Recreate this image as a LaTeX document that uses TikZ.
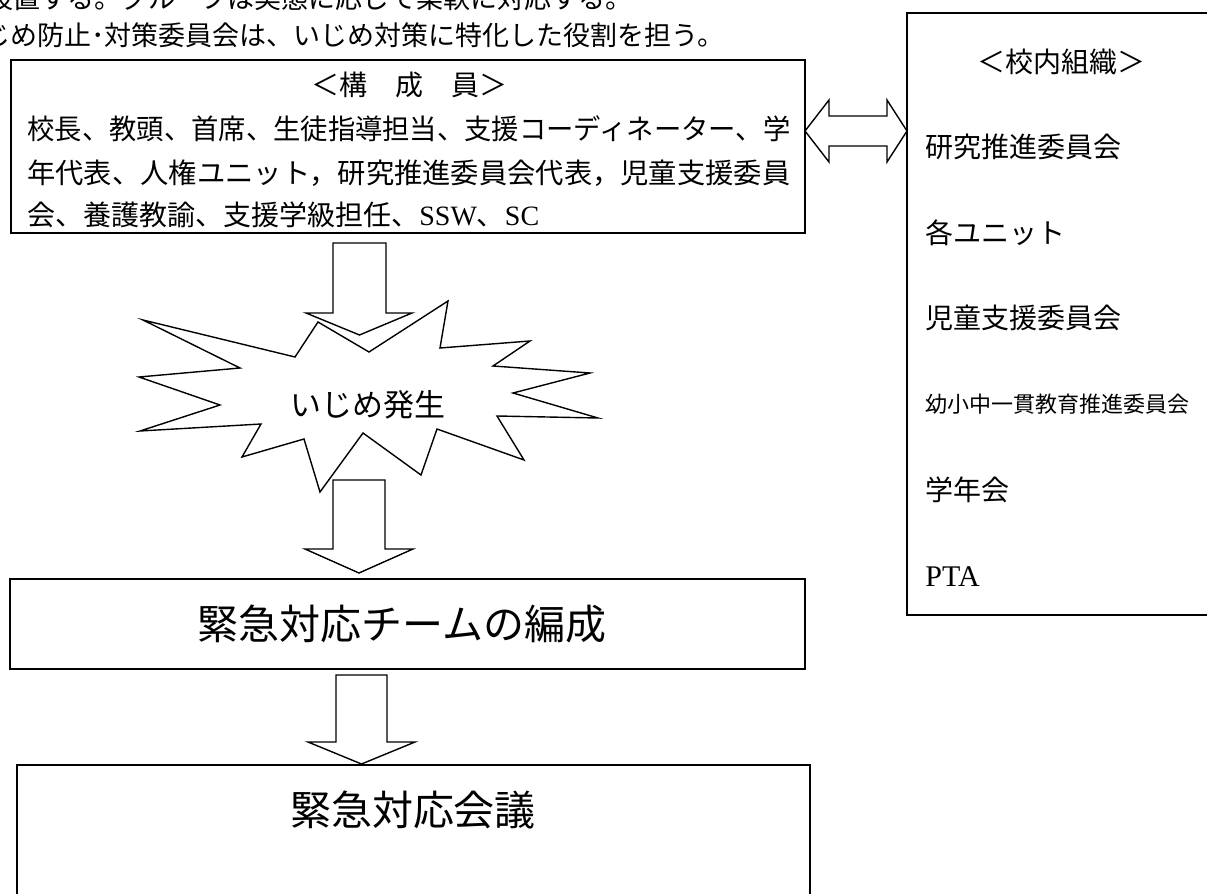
\documentclass[tikz,border=0pt]{standalone}
\usepackage{fontspec}
\setmainfont{Liberation Serif}
\newfontfamily\jp{Noto Sans CJK JP}
\usetikzlibrary{fit}
\begin{document}
\begin{tikzpicture}[x=0.5pt, y=-0.5pt, line join=miter,
	box/.style={draw, line width=1pt, inner sep=0pt},
	blk/.style={draw, line width=0.7pt, fill=white},
	txt/.style={inner sep=0pt, font=\jp\fontsize{14}{17}\selectfont}]
	\useasboundingbox (0,0) rectangle (1207,894);
	\clip (0,0) rectangle (1207,894);
	% lines cut from the page above
	\node[txt, anchor=west, font=\jp\fontsize{13.5}{16}\selectfont] (intro1) at (-14,-2) {設置する。グループは実態に応じて柔軟に対応する。};
	\node[txt, anchor=west, font=\jp\fontsize{13.5}{16}\selectfont] (intro2) at (-17,35) {じめ防止･対策委員会は、いじめ対策に特化した役割を担う。};
	% members
	\node[box, fit={(11,60) (805,233)}] (members) {};
	\node[txt] (memtitle) at (409,85) {＜構　成　員＞};
	\node[txt, anchor=west] (mem1) at (27,129) {\resizebox{381.5pt}{\height}{校長、教頭、首席、生徒指導担当、支援コーディネーター、学}};
	\node[txt, anchor=west] (mem2) at (27,173) {\resizebox{381.5pt}{\height}{年代表、人権ユニット，研究推進委員会代表，児童支援委員}};
	\node[txt, anchor=west] (mem3) at (27,215) {会、養護教諭、支援学級担任、{\rmfamily SSW}、{\rmfamily SC}};
	% school organisations
	\node[box, fit={(907,13) (1220,615)}] (org) {};
	\node[txt] (orgtitle) at (1061,62) {＜校内組織＞};
	\node[txt, anchor=west] (org1) at (925,147) {研究推進委員会};
	\node[txt, anchor=west] (org2) at (925,233) {各ユニット};
	\node[txt, anchor=west] (org3) at (925,318) {児童支援委員会};
	\node[txt, anchor=west, font=\jp\fontsize{11}{13}\selectfont] (org4) at (925,404) {幼小中一貫教育推進委員会};
	\node[txt, anchor=west] (org5) at (925,490) {学年会};
	\node[txt, anchor=west, font=\rmfamily\fontsize{15}{18}\selectfont] (org6) at (925,577) {PTA};
	\draw[blk] (805,131) -- (829,100) -- (829,116) -- (887,116) -- (887,100) -- (907,131)
		-- (887,162) -- (887,146) -- (829,146) -- (829,162) -- cycle;
	% bullying occurs
	\draw[blk] (143,320) -- (295,357) -- (318,322) -- (369,352) -- (448,301) -- (440,348)
		-- (530,341) -- (493,366) -- (590,373) -- (513,393) -- (598,418) -- (497,416)
		-- (524,460) -- (437,429) -- (421,475) -- (363,433) -- (320,492) -- (304,439)
		-- (242,457) -- (261,424) -- (140,431) -- (220,405) -- (139,377) -- (240,368) -- cycle;
	\node[txt, font=\jp\fontsize{15.5}{18}\selectfont] (burst) at (368,405) {いじめ発生};
	\draw[blk] (333,243) -- (386,243) -- (386,313) -- (412,313) -- (359.5,335) -- (306,313) -- (333,313) -- cycle;
	\draw[blk] (333,480) -- (385,480) -- (385,549) -- (413,549) -- (359,573) -- (305,549) -- (333,549) -- cycle;
	% emergency team and meeting
	\node[box, fit={(10,579) (805,669)}] (team) {};
	\node[txt, font=\jp\fontsize{20.5}{24}\selectfont] (teamtext) at (402,624) {緊急対応チームの編成};
	\draw[blk] (336,675) -- (387,675) -- (387,742) -- (415,742) -- (361.5,764) -- (308,742) -- (336,742) -- cycle;
	\node[box, line width=0.7pt, fit={(17,765) (810,920)}] (meeting) {};
	\node[txt, font=\jp\fontsize{20.5}{24}\selectfont] (meetingtext) at (413,810) {緊急対応会議};
\end{tikzpicture}
\end{document}
